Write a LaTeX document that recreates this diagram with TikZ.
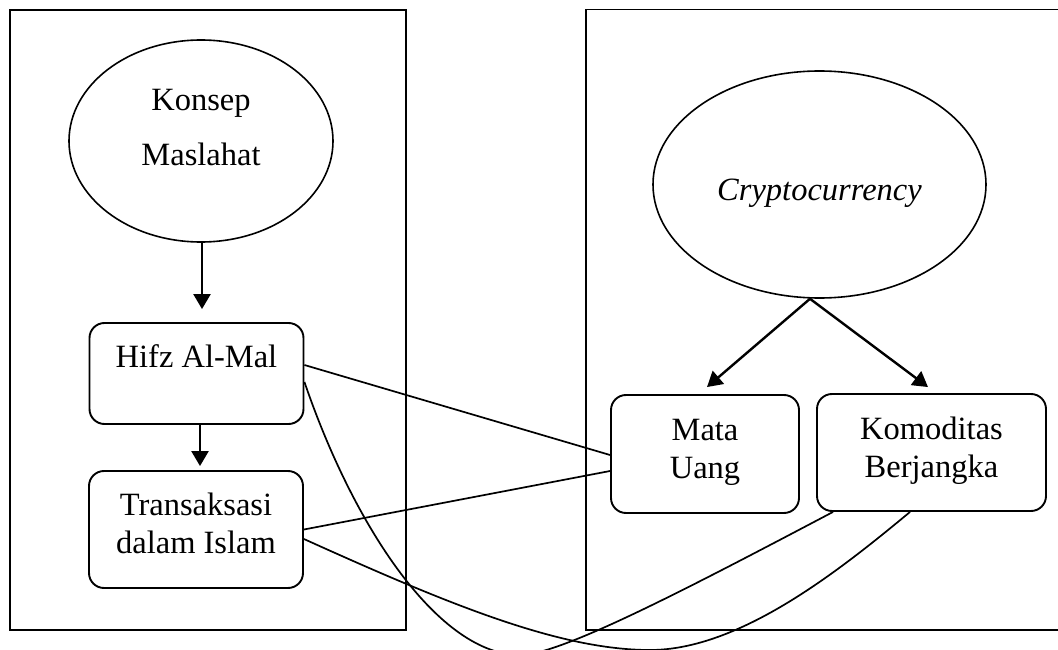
\documentclass[tikz,border=0pt]{standalone}
\usepackage{fontspec}
\setmainfont{Liberation Serif}
\usetikzlibrary{shapes.geometric,arrows.meta,calc}
\tikzset{
  frame/.style={draw, line width=1.5pt},
  oval/.style={ellipse, draw, line width=1.6pt, inner sep=0pt},
  rbox/.style={rectangle, rounded corners=15pt, draw, line width=1.9pt, inner sep=0pt},
  txt/.style={font=\fontsize{32.5}{38}\selectfont, align=center},
  arr/.style={-{Triangle[length=15pt,width=17pt]}, line width=2.4pt},
  link/.style={line width=1.7pt},
}
\begin{document}
\begin{tikzpicture}[x=1pt,y=-1pt]
\useasboundingbox (0,0) rectangle (1058,650);
\fill[white] (0,0) rectangle (1058,650);
% frames
\draw[frame] (10,10) rectangle (406,630);
\draw[frame] (586,9.5) rectangle (1075,630);
% left column
\node[oval, minimum width=264pt, minimum height=202pt,
  label={[txt,yshift=13.75pt]center:{Konsep\\[17pt]Maslahat}}] (konsep) at (201,141) {};
\node[rbox, minimum width=214pt, minimum height=101pt,
  label={[txt,yshift=17.5pt]center:Hifz Al-Mal}] (hifz) at (196.5,373.5) {};
\node[rbox, minimum width=214pt, minimum height=117pt,
  label={[txt,yshift=6.5pt]center:{Transaksasi\\dalam Islam}}] (trans) at (196,529.5) {};
% right column
\node[oval, minimum width=333pt, minimum height=227pt,
  label={[txt,yshift=-8.5pt]center:{\itshape Cryptocurrency}}] (crypto) at (819.5,184.5) {};
\node[rbox, minimum width=188pt, minimum height=118pt,
  label={[txt,yshift=2pt]center:{Mata\\Uang}}] (mata) at (705,454) {};
\node[rbox, minimum width=229pt, minimum height=117pt,
  label={[txt,yshift=2pt]center:{Komoditas\\Berjangka}}] (komo) at (931.5,452.5) {};
% arrows
\draw[arr, shorten >=13pt] ([xshift=1pt]konsep.south) -- ([xshift=1pt]konsep.south |- hifz.north);
\draw[arr, shorten >=4pt] ([xshift=3.5pt]hifz.south) -- ([xshift=3.5pt]hifz.south |- trans.north);
\draw[arr] ([xshift=-9.5pt]crypto.south) -- ([xshift=2pt,yshift=7pt]mata.north);
\draw[arr] ([xshift=-9.5pt]crypto.south) -- ([xshift=-3.5pt,yshift=6pt]komo.north);
% straight links
\draw[link] ([yshift=8.5pt]hifz.east) -- ([yshift=-1pt]mata.west);
\draw[link] (trans.east) -- ([yshift=-17pt]mata.west);
% curved links
\draw[link] ([yshift=-8.5pt]hifz.east) .. controls (355,530) and (440,655) .. (520,655)
  .. controls (560,655) and (683,591) .. ([xshift=-98.5pt]komo.south);
\draw[link] ([yshift=-9.5pt]trans.east) .. controls (450,605) and (560,650) .. (650,650)
  .. controls (740,650) and (840,570) .. ([xshift=-21.5pt]komo.south);
\end{tikzpicture}
\end{document}
